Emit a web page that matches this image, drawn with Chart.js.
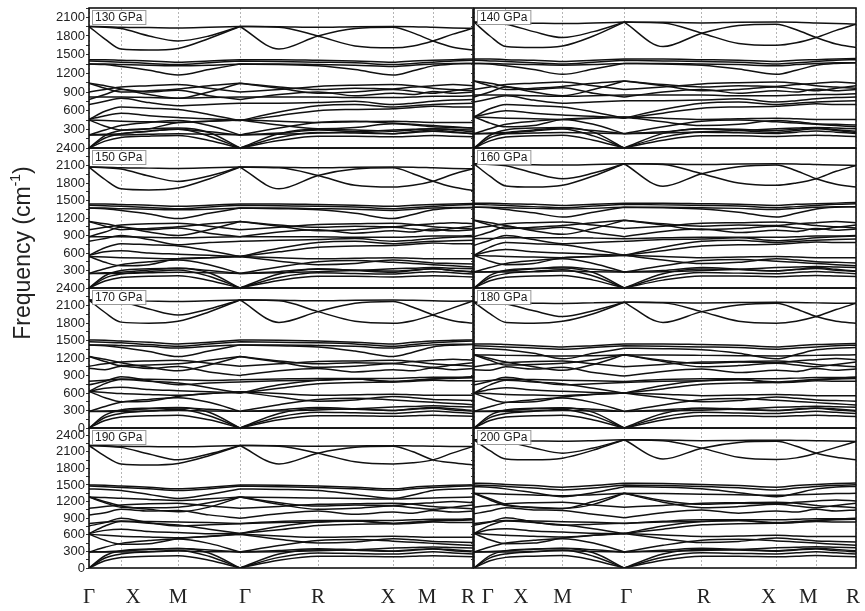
<!DOCTYPE html>
<html lang="en">
<head>
<meta charset="UTF-8" />
<title>Phonon dispersion 130-200 GPa</title>
<script src="https://cdn.jsdelivr.net/npm/chart.js"></script>
<style>
  body { margin: 0; background: #fff; }
  .fig { position: relative; width: 865px; height: 611px; overflow: hidden; background: #fff; }
  #leftCol { position: absolute; left: 0; top: 0; }
  #rightCol { position: absolute; left: 470px; top: 0; }
</style>
</head>
<body>
<div class="fig">
  <canvas id="leftCol" width="480" height="611"></canvas>
  <canvas id="rightCol" width="395" height="611"></canvas>
</div>
<script>
// high-symmetry points along the k path (dotted grid)
const kNodes = [0, 0.32, 0.89, 1.51, 2.29, 3.04, 3.44, 3.84];
const kLabels = ['Γ', 'X', 'M', 'Γ', 'R', 'X', 'M', 'R'];
// where the point names sit under each column
const kLabelAtLeft = [0, 0.44, 0.89, 1.56, 2.29, 2.99, 3.38, 3.79];
const kLabelAtRight = [0.14, 0.47, 0.89, 1.53, 2.31, 2.96, 3.36, 3.81];
const kSamples = [0, 0.16, 0.32, 0.6, 0.89, 1.2, 1.51, 1.9, 2.29, 2.66, 3.04, 3.24, 3.44, 3.64, 3.84];
const rowMax = [2250, 2400, 2400, 2530];
const leftNames = ['130 GPa', '150 GPa', '170 GPa', '190 GPa'];
const rightNames = ['140 GPa', '160 GPa', '180 GPa', '200 GPa'];

const p130 = [
  [1953, 1950, 1940, 1935, 1930, 1940, 1953, 1950, 1940, 1950, 1953, 1950, 1940, 1930, 1924],
  [1953, 1750, 1590, 1575, 1600, 1760, 1953, 1590, 1800, 1920, 1940, 1850, 1720, 1620, 1573],
  [1953, 1940, 1920, 1800, 1720, 1800, 1953, 1940, 1800, 1640, 1610, 1640, 1720, 1830, 1924],
  [1420, 1420, 1410, 1400, 1380, 1400, 1420, 1420, 1410, 1400, 1380, 1400, 1410, 1420, 1430],
  [1400, 1390, 1380, 1360, 1340, 1370, 1400, 1390, 1380, 1370, 1340, 1360, 1380, 1400, 1410],
  [1350, 1350, 1340, 1330, 1320, 1330, 1350, 1350, 1340, 1330, 1310, 1330, 1350, 1360, 1360],
  [1350, 1340, 1310, 1250, 1172, 1260, 1350, 1340, 1320, 1260, 1172, 1240, 1320, 1350, 1360],
  [1040, 960, 900, 920, 950, 1000, 1040, 980, 940, 960, 950, 980, 1000, 1020, 1000],
  [1040, 1000, 950, 860, 800, 900, 1040, 960, 880, 900, 940, 910, 880, 920, 960],
  [780, 860, 940, 900, 930, 840, 780, 860, 900, 840, 880, 860, 910, 880, 900],
  [820, 820, 820, 810, 800, 810, 820, 820, 820, 810, 810, 820, 830, 830, 840],
  [700, 750, 800, 730, 680, 700, 720, 720, 730, 750, 700, 720, 750, 770, 780],
  [460, 590, 660, 640, 620, 540, 440, 580, 680, 700, 660, 680, 700, 710, 720],
  [460, 520, 560, 520, 490, 470, 440, 520, 600, 620, 630, 650, 670, 660, 660],
  [900, 940, 980, 1000, 1020, 960, 900, 940, 990, 1010, 1020, 1000, 960, 940, 920],
  [450, 440, 430, 420, 410, 430, 450, 430, 410, 420, 430, 420, 410, 410, 410],
  [450, 350, 290, 310, 410, 430, 450, 370, 310, 330, 390, 370, 340, 330, 320],
  [210, 220, 230, 270, 300, 260, 210, 240, 290, 260, 230, 260, 290, 260, 230],
  [210, 210, 210, 220, 230, 220, 210, 220, 240, 260, 290, 300, 310, 300, 290],
  [210, 290, 360, 410, 440, 360, 210, 320, 410, 430, 400, 380, 360, 340, 320],
  [0, 110, 170, 190, 200, 120, 0, 120, 190, 190, 180, 190, 200, 190, 180],
  [0, 160, 230, 270, 300, 190, 0, 170, 250, 240, 230, 250, 270, 250, 230],
  [0, 200, 280, 310, 320, 250, 0, 230, 300, 290, 270, 290, 310, 290, 260]
];
const p140 = [
  [2023, 2020, 2010, 2005, 2000, 2010, 2023, 2020, 2010, 2020, 2023, 2020, 2010, 2000, 1990],
  [2023, 1800, 1630, 1614, 1640, 1800, 2023, 1630, 1845, 1970, 1990, 1900, 1775, 1670, 1614],
  [2023, 2010, 1990, 1870, 1775, 1870, 2023, 2010, 1845, 1680, 1650, 1690, 1775, 1890, 1990],
  [1430, 1430, 1420, 1410, 1390, 1410, 1430, 1430, 1420, 1410, 1390, 1410, 1420, 1430, 1440],
  [1410, 1400, 1390, 1370, 1350, 1380, 1410, 1400, 1390, 1380, 1350, 1370, 1390, 1410, 1420],
  [1360, 1360, 1350, 1340, 1330, 1340, 1360, 1360, 1350, 1340, 1320, 1340, 1360, 1370, 1370],
  [1360, 1350, 1320, 1260, 1184, 1270, 1360, 1350, 1330, 1270, 1184, 1250, 1330, 1360, 1370],
  [1076, 1000, 940, 960, 990, 1040, 1076, 1020, 980, 1000, 990, 1020, 1040, 1060, 1040],
  [1076, 1040, 990, 900, 840, 940, 1076, 1000, 920, 940, 980, 950, 920, 960, 1000],
  [820, 900, 980, 940, 970, 880, 820, 900, 940, 880, 920, 900, 950, 920, 940],
  [850, 850, 850, 840, 830, 840, 850, 850, 850, 840, 840, 850, 860, 860, 870],
  [740, 790, 840, 770, 720, 740, 760, 760, 770, 790, 740, 760, 790, 810, 820],
  [500, 630, 700, 680, 660, 580, 480, 620, 720, 740, 700, 720, 740, 750, 760],
  [500, 560, 600, 560, 530, 510, 480, 560, 640, 660, 670, 690, 710, 700, 700],
  [940, 980, 1020, 1040, 1060, 1000, 940, 980, 1030, 1050, 1060, 1040, 1000, 980, 960],
  [500, 490, 480, 470, 460, 480, 500, 480, 460, 470, 480, 470, 460, 460, 460],
  [500, 400, 340, 360, 460, 480, 500, 420, 360, 380, 440, 420, 390, 380, 370],
  [231, 240, 250, 290, 320, 280, 231, 260, 310, 280, 250, 280, 310, 280, 250],
  [231, 231, 231, 240, 250, 240, 231, 240, 260, 280, 310, 320, 330, 320, 310],
  [231, 310, 380, 430, 460, 380, 231, 340, 430, 450, 420, 400, 380, 360, 340],
  [0, 115, 175, 195, 205, 125, 0, 125, 195, 195, 185, 195, 205, 195, 185],
  [0, 165, 235, 275, 305, 195, 0, 175, 255, 245, 235, 255, 275, 255, 235],
  [0, 205, 290, 320, 330, 255, 0, 235, 310, 300, 280, 300, 320, 295, 270]
];
const p150 = [
  [2073, 2070, 2060, 2055, 2050, 2060, 2073, 2070, 2060, 2070, 2073, 2070, 2060, 2050, 2044],
  [2073, 1860, 1700, 1680, 1713, 1870, 2073, 1700, 1930, 2040, 2060, 1960, 1830, 1730, 1673],
  [2073, 2060, 2040, 1920, 1827, 1920, 2073, 2060, 1930, 1760, 1730, 1760, 1830, 1950, 2044],
  [1440, 1440, 1430, 1420, 1400, 1420, 1440, 1440, 1430, 1420, 1400, 1420, 1430, 1440, 1450],
  [1420, 1410, 1400, 1380, 1360, 1390, 1420, 1410, 1400, 1390, 1360, 1380, 1400, 1420, 1430],
  [1370, 1370, 1360, 1350, 1340, 1350, 1370, 1370, 1360, 1350, 1330, 1350, 1370, 1380, 1380],
  [1370, 1360, 1330, 1270, 1190, 1280, 1370, 1360, 1340, 1280, 1190, 1260, 1340, 1370, 1380],
  [1140, 1060, 1000, 1020, 1050, 1100, 1140, 1080, 1040, 1060, 1050, 1080, 1100, 1120, 1100],
  [1140, 1100, 1050, 960, 900, 1000, 1140, 1060, 980, 1000, 1040, 1010, 980, 1020, 1060],
  [880, 960, 1040, 1000, 1030, 940, 880, 960, 1000, 940, 980, 960, 1010, 980, 1000],
  [880, 880, 880, 870, 860, 870, 880, 880, 880, 870, 870, 880, 890, 890, 900],
  [800, 850, 900, 830, 740, 780, 800, 820, 830, 850, 800, 820, 850, 870, 880],
  [560, 690, 760, 740, 720, 640, 540, 680, 780, 800, 760, 780, 800, 810, 820],
  [560, 620, 640, 600, 580, 560, 540, 620, 700, 720, 730, 750, 770, 760, 760],
  [1000, 1040, 1080, 1100, 1110, 1060, 1000, 1040, 1090, 1100, 1110, 1090, 1050, 1030, 1010],
  [540, 530, 520, 510, 500, 520, 540, 520, 500, 510, 520, 510, 500, 500, 500],
  [540, 440, 380, 400, 500, 520, 540, 460, 400, 420, 480, 460, 430, 420, 410],
  [250, 260, 270, 310, 340, 300, 250, 280, 330, 300, 270, 300, 330, 300, 270],
  [250, 250, 250, 260, 270, 260, 250, 260, 280, 300, 330, 340, 350, 340, 330],
  [250, 330, 400, 450, 480, 400, 250, 360, 450, 470, 440, 420, 400, 380, 360],
  [0, 120, 180, 200, 210, 130, 0, 130, 200, 200, 190, 200, 210, 200, 190],
  [0, 170, 240, 280, 310, 200, 0, 180, 260, 250, 240, 260, 280, 260, 240],
  [0, 210, 300, 330, 340, 260, 0, 240, 320, 310, 290, 310, 330, 300, 280]
];
const p160 = [
  [2130, 2127, 2117, 2112, 2107, 2117, 2130, 2127, 2117, 2127, 2130, 2127, 2117, 2107, 2101],
  [2130, 1917, 1750, 1730, 1760, 1920, 2130, 1745, 1959, 2080, 2110, 2010, 1873, 1780, 1730],
  [2130, 2117, 2097, 1970, 1873, 1970, 2130, 2117, 1959, 1800, 1760, 1800, 1873, 2000, 2101],
  [1455, 1455, 1445, 1435, 1415, 1435, 1455, 1455, 1445, 1435, 1415, 1435, 1445, 1455, 1465],
  [1435, 1425, 1415, 1395, 1375, 1405, 1435, 1425, 1415, 1405, 1375, 1395, 1415, 1435, 1445],
  [1385, 1385, 1375, 1365, 1355, 1365, 1385, 1385, 1375, 1365, 1345, 1365, 1385, 1395, 1395],
  [1385, 1375, 1345, 1290, 1216, 1300, 1385, 1375, 1355, 1300, 1216, 1280, 1355, 1385, 1395],
  [1160, 1080, 1020, 1040, 1070, 1120, 1160, 1100, 1060, 1080, 1070, 1100, 1120, 1140, 1120],
  [1160, 1120, 1070, 980, 920, 1020, 1160, 1080, 1000, 1020, 1060, 1030, 1000, 1040, 1080],
  [880, 960, 1050, 1010, 1040, 950, 880, 970, 1010, 950, 990, 970, 1020, 990, 1010],
  [845, 850, 860, 860, 860, 855, 845, 860, 870, 870, 870, 880, 890, 890, 900],
  [730, 820, 900, 830, 760, 780, 800, 830, 840, 860, 810, 830, 860, 880, 890],
  [560, 700, 780, 760, 740, 660, 560, 700, 800, 820, 780, 800, 820, 830, 840],
  [560, 630, 660, 620, 600, 580, 560, 640, 720, 740, 750, 770, 790, 780, 780],
  [1020, 1060, 1100, 1120, 1130, 1080, 1020, 1060, 1110, 1120, 1130, 1110, 1070, 1050, 1030],
  [560, 550, 540, 530, 520, 540, 560, 540, 520, 530, 540, 530, 520, 520, 520],
  [560, 460, 400, 420, 520, 540, 560, 480, 420, 440, 500, 480, 450, 440, 430],
  [274, 280, 290, 330, 360, 320, 274, 300, 350, 320, 290, 320, 350, 320, 290],
  [274, 274, 274, 280, 290, 280, 274, 280, 300, 320, 350, 360, 370, 360, 350],
  [274, 350, 420, 470, 500, 420, 274, 380, 470, 490, 460, 440, 420, 400, 380],
  [0, 125, 185, 205, 215, 135, 0, 135, 205, 205, 195, 205, 215, 205, 195],
  [0, 175, 245, 285, 315, 205, 0, 185, 265, 255, 245, 265, 285, 265, 245],
  [0, 215, 305, 335, 345, 265, 0, 245, 325, 315, 295, 315, 335, 305, 285]
];
const p170 = [
  [2195, 2190, 2180, 2175, 2170, 2180, 2195, 2190, 2180, 2190, 2195, 2190, 2180, 2175, 2177],
  [2195, 1980, 1815, 1796, 1830, 1990, 2195, 1810, 1995, 2140, 2170, 2070, 1938, 1840, 1796],
  [2195, 2180, 2160, 2040, 1938, 2040, 2195, 2180, 1995, 1830, 1796, 1840, 1938, 2060, 2177],
  [1510, 1505, 1490, 1470, 1440, 1470, 1510, 1505, 1490, 1470, 1440, 1470, 1490, 1505, 1510],
  [1480, 1470, 1460, 1430, 1400, 1440, 1480, 1470, 1460, 1440, 1400, 1430, 1460, 1480, 1490],
  [1425, 1425, 1415, 1400, 1370, 1400, 1425, 1425, 1415, 1400, 1370, 1400, 1425, 1435, 1435],
  [1425, 1410, 1380, 1310, 1225, 1320, 1425, 1410, 1390, 1320, 1225, 1300, 1390, 1420, 1430],
  [1225, 1140, 1070, 1080, 1100, 1160, 1225, 1150, 1100, 1120, 1110, 1140, 1160, 1180, 1160],
  [1225, 1180, 1120, 1040, 980, 1080, 1225, 1130, 1040, 1060, 1100, 1070, 1040, 1080, 1120],
  [1026, 1000, 1060, 1020, 1054, 960, 900, 980, 1020, 960, 1000, 980, 1030, 1000, 1020],
  [800, 820, 840, 835, 826, 815, 826, 840, 850, 850, 850, 860, 870, 870, 880],
  [740, 800, 880, 810, 741, 770, 790, 810, 820, 840, 790, 810, 840, 860, 870],
  [627, 760, 830, 800, 770, 690, 598, 740, 820, 840, 800, 820, 840, 850, 860],
  [627, 680, 700, 660, 640, 620, 598, 680, 760, 780, 790, 800, 820, 810, 810],
  [1060, 1100, 1130, 1150, 1160, 1110, 1060, 1100, 1140, 1150, 1160, 1140, 1100, 1080, 1060],
  [627, 610, 590, 575, 560, 590, 620, 590, 560, 570, 580, 570, 560, 560, 560],
  [627, 520, 450, 460, 541, 590, 620, 530, 460, 480, 540, 520, 490, 480, 470],
  [285, 290, 300, 330, 342, 320, 285, 310, 350, 330, 300, 330, 350, 330, 300],
  [285, 285, 285, 290, 300, 290, 285, 290, 310, 330, 360, 370, 380, 370, 360],
  [285, 370, 440, 490, 520, 440, 285, 400, 490, 510, 480, 460, 440, 420, 400],
  [0, 130, 190, 210, 220, 140, 0, 140, 210, 210, 200, 210, 220, 210, 200],
  [0, 180, 250, 290, 320, 210, 0, 190, 270, 260, 250, 270, 290, 270, 250],
  [0, 220, 310, 340, 350, 270, 0, 250, 330, 320, 300, 320, 340, 310, 290]
];
const p180 = [
  [2155, 2152, 2145, 2140, 2135, 2145, 2155, 2152, 2145, 2150, 2155, 2150, 2145, 2140, 2138],
  [2155, 1960, 1810, 1796, 1830, 1960, 2155, 1810, 1995, 2110, 2140, 2040, 1910, 1830, 1796],
  [2155, 2145, 2125, 2010, 1910, 2010, 2155, 2145, 1995, 1830, 1796, 1830, 1910, 2030, 2138],
  [1440, 1440, 1430, 1410, 1390, 1410, 1440, 1440, 1430, 1420, 1390, 1410, 1430, 1440, 1450],
  [1410, 1400, 1390, 1370, 1350, 1380, 1410, 1400, 1390, 1380, 1350, 1370, 1390, 1410, 1420],
  [1368, 1360, 1340, 1280, 1186, 1280, 1368, 1360, 1340, 1280, 1186, 1260, 1340, 1368, 1380],
  [1254, 1250, 1245, 1240, 1235, 1240, 1254, 1250, 1245, 1240, 1235, 1240, 1245, 1250, 1254],
  [1254, 1160, 1080, 1090, 1110, 1170, 1254, 1160, 1110, 1130, 1120, 1150, 1170, 1190, 1170],
  [1254, 1190, 1130, 1050, 990, 1090, 1254, 1140, 1050, 1070, 1110, 1080, 1050, 1090, 1130],
  [1000, 990, 1050, 1010, 1040, 950, 890, 970, 1010, 950, 990, 970, 1020, 990, 1010],
  [798, 815, 835, 830, 820, 810, 798, 830, 845, 845, 845, 855, 865, 865, 875],
  [740, 800, 870, 800, 740, 760, 780, 800, 810, 830, 780, 800, 830, 850, 860],
  [598, 740, 820, 790, 760, 680, 598, 730, 810, 830, 790, 810, 830, 840, 850],
  [598, 660, 690, 650, 630, 610, 598, 670, 750, 770, 780, 790, 810, 800, 800],
  [1050, 1090, 1120, 1140, 1150, 1100, 1050, 1090, 1130, 1140, 1150, 1130, 1090, 1070, 1050],
  [598, 590, 575, 565, 555, 580, 598, 580, 555, 565, 575, 565, 555, 555, 555],
  [598, 500, 440, 450, 530, 575, 598, 520, 450, 470, 530, 510, 480, 470, 460],
  [285, 290, 300, 330, 340, 320, 285, 310, 345, 325, 300, 325, 345, 325, 300],
  [285, 285, 285, 290, 300, 290, 285, 290, 305, 325, 355, 365, 375, 365, 355],
  [285, 365, 435, 485, 515, 435, 285, 395, 485, 505, 475, 455, 435, 415, 395],
  [0, 128, 188, 208, 218, 138, 0, 138, 208, 208, 198, 208, 218, 208, 198],
  [0, 178, 248, 288, 318, 208, 0, 188, 268, 258, 248, 268, 288, 268, 248],
  [0, 218, 308, 338, 348, 268, 0, 248, 328, 318, 298, 318, 338, 308, 288]
];
const p190 = [
  [2214, 2210, 2200, 2195, 2190, 2200, 2214, 2210, 2200, 2205, 2210, 2205, 2200, 2195, 2196],
  [2214, 2020, 1880, 1863, 1890, 2030, 2214, 1880, 2075, 2180, 2200, 2100, 1954, 1900, 1863],
  [2214, 2200, 2180, 2060, 1954, 2060, 2214, 2200, 2075, 1920, 1880, 1900, 1954, 2080, 2196],
  [1500, 1495, 1480, 1460, 1430, 1460, 1500, 1495, 1480, 1460, 1430, 1460, 1480, 1495, 1505],
  [1480, 1470, 1455, 1430, 1400, 1430, 1480, 1470, 1455, 1430, 1400, 1430, 1455, 1475, 1485],
  [1428, 1420, 1400, 1330, 1258, 1330, 1428, 1420, 1400, 1330, 1258, 1320, 1400, 1425, 1435],
  [1283, 1275, 1260, 1240, 1222, 1250, 1283, 1275, 1265, 1255, 1245, 1255, 1265, 1275, 1283],
  [1283, 1180, 1100, 1090, 1100, 1180, 1283, 1180, 1120, 1140, 1130, 1160, 1180, 1200, 1180],
  [1283, 1200, 1120, 1060, 1016, 1100, 1283, 1150, 1060, 1080, 1120, 1090, 1060, 1100, 1140],
  [956, 1000, 1060, 1030, 1040, 960, 900, 980, 1030, 970, 1010, 990, 1040, 1010, 1030],
  [805, 830, 850, 840, 830, 820, 805, 840, 860, 860, 860, 870, 880, 880, 890],
  [760, 820, 900, 820, 760, 780, 800, 820, 830, 850, 800, 820, 850, 870, 880],
  [624, 760, 840, 810, 775, 700, 624, 750, 830, 850, 810, 830, 850, 860, 870],
  [624, 680, 700, 660, 640, 620, 624, 690, 770, 790, 800, 810, 830, 820, 820],
  [1080, 1110, 1140, 1160, 1170, 1120, 1080, 1110, 1150, 1160, 1170, 1150, 1110, 1090, 1070],
  [610, 590, 575, 560, 545, 570, 610, 580, 555, 565, 575, 565, 555, 555, 555],
  [610, 500, 430, 440, 530, 575, 610, 520, 450, 470, 530, 510, 480, 470, 460],
  [290, 295, 305, 335, 351, 325, 290, 315, 350, 330, 305, 330, 350, 330, 305],
  [290, 290, 290, 295, 305, 295, 290, 295, 310, 330, 360, 370, 380, 370, 360],
  [290, 375, 445, 495, 525, 445, 290, 405, 495, 515, 485, 465, 445, 425, 405],
  [0, 130, 190, 212, 222, 140, 0, 140, 212, 212, 202, 212, 222, 212, 202],
  [0, 180, 252, 292, 322, 212, 0, 192, 272, 262, 252, 272, 292, 272, 252],
  [0, 222, 312, 342, 352, 272, 0, 252, 332, 322, 302, 322, 342, 312, 292]
];
const p200 = [
  [2317, 2312, 2300, 2295, 2290, 2300, 2317, 2312, 2300, 2305, 2310, 2305, 2300, 2295, 2287],
  [2317, 2120, 1970, 1954, 1985, 2130, 2317, 1970, 2166, 2270, 2290, 2200, 2075, 2000, 1954],
  [2317, 2300, 2280, 2170, 2075, 2170, 2317, 2300, 2166, 2000, 1960, 1990, 2075, 2180, 2287],
  [1531, 1525, 1510, 1490, 1460, 1490, 1531, 1525, 1510, 1490, 1460, 1490, 1510, 1525, 1535],
  [1500, 1490, 1475, 1445, 1410, 1445, 1500, 1490, 1475, 1450, 1410, 1445, 1475, 1495, 1505],
  [1470, 1460, 1430, 1360, 1289, 1360, 1470, 1460, 1430, 1360, 1289, 1350, 1430, 1465, 1475],
  [1350, 1345, 1335, 1320, 1305, 1325, 1350, 1345, 1335, 1325, 1315, 1325, 1335, 1345, 1350],
  [1350, 1230, 1130, 1100, 1077, 1200, 1350, 1220, 1150, 1170, 1160, 1190, 1210, 1230, 1210],
  [1350, 1250, 1150, 1090, 1077, 1150, 1350, 1190, 1090, 1110, 1150, 1120, 1090, 1130, 1170],
  [980, 1030, 1090, 1050, 1040, 970, 910, 1000, 1050, 990, 1030, 1010, 1060, 1030, 1050],
  [805, 835, 860, 850, 835, 825, 805, 845, 870, 870, 870, 880, 890, 890, 900],
  [774, 830, 910, 830, 774, 790, 810, 830, 840, 860, 810, 830, 860, 880, 890],
  [623, 770, 850, 820, 780, 710, 623, 760, 840, 860, 820, 840, 860, 870, 880],
  [623, 690, 710, 670, 650, 630, 623, 700, 780, 800, 810, 820, 840, 830, 830],
  [1100, 1130, 1160, 1180, 1190, 1140, 1100, 1130, 1170, 1180, 1190, 1170, 1130, 1110, 1090],
  [623, 605, 590, 575, 560, 590, 623, 595, 570, 580, 590, 580, 570, 570, 570],
  [623, 510, 440, 450, 540, 590, 623, 530, 460, 480, 540, 520, 490, 480, 470],
  [290, 300, 310, 340, 355, 330, 290, 320, 355, 335, 310, 335, 355, 335, 310],
  [290, 290, 290, 300, 310, 300, 290, 300, 315, 335, 365, 375, 385, 375, 365],
  [290, 380, 450, 500, 530, 450, 290, 410, 500, 520, 490, 470, 450, 430, 410],
  [0, 132, 192, 214, 224, 142, 0, 142, 214, 214, 204, 214, 224, 214, 204],
  [0, 182, 254, 294, 324, 214, 0, 194, 274, 264, 254, 274, 294, 274, 254],
  [0, 224, 314, 344, 354, 274, 0, 254, 334, 324, 304, 324, 344, 314, 294]
];

const SANS = '"Liberation Sans", Arial, sans-serif';
const SERIF = '"Liberation Serif", "Times New Roman", serif';
const K_MAX = 3.84;

// break each band at the middle Γ so the acoustic branches meet in a cusp
function bandData(band) {
  const pts = kSamples.map((k, i) => ({ x: k, y: band[i] }));
  return [...pts.slice(0, 7), { x: kSamples[6], y: null }, ...pts.slice(6)];
}

function makeDatasets(panels) {
  const ds = [];
  panels.forEach((bands, r) => {
    bands.forEach(b => ds.push({
      data: bandData(b),
      xAxisID: 'x',
      yAxisID: 'y' + r,
      borderColor: '#111',
      borderWidth: 1.5,
      pointRadius: 0,
      cubicInterpolationMode: 'monotone',
      spanGaps: false,
      fill: false
    }));
  });
  return ds;
}

function makeScales(showLabels, axisWidth, labelAt) {
  const scales = {
    // dotted lines at the high-symmetry points
    x: {
      type: 'linear', min: 0, max: K_MAX,
      afterBuildTicks: s => { s.ticks = kNodes.map(v => ({ value: v })); },
      afterFit: s => { s.height = 0; s.paddingLeft = 0; s.paddingRight = 0; },
      grid: { color: '#b5b5b5', lineWidth: 1, drawTicks: false },
      border: { display: false, dash: [2, 2] },
      ticks: { display: false }
    },
    // point names underneath
    xl: {
      type: 'linear', position: 'bottom', min: 0, max: K_MAX,
      afterBuildTicks: s => { s.ticks = labelAt.map(v => ({ value: v })); },
      afterFit: s => { s.height = 43; s.paddingLeft = 0; s.paddingRight = 0; },
      grid: { display: false, drawTicks: false },
      border: { display: false },
      ticks: {
        callback: (v, i) => kLabels[i],
        autoSkip: false, maxRotation: 0, padding: 17,
        color: '#222', font: { family: SERIF, size: 21 }
      }
    }
  };
  rowMax.forEach((max, r) => {
    scales['y' + r] = {
      type: 'linear', position: 'left', stack: 'col', stackWeight: 1, weight: 4 - r,
      min: 0, max: max,
      afterBuildTicks: s => {
        const t = [];
        for (let v = 0; v <= max; v += 150) t.push({ value: v });
        s.ticks = t;
      },
      afterFit: s => { s.width = axisWidth; s.paddingTop = 0; s.paddingBottom = 0; },
      grid: { drawOnChartArea: false, drawTicks: true, tickLength: 3, color: '#333' },
      border: { display: false },
      ticks: {
        display: showLabels, autoSkip: false, padding: 1,
        color: '#222', font: { family: SANS, size: 13 },
        callback: v => (v % 300 || (v === 0 && r < 2)) ? '' : String(v)
      }
    };
  });
  return scales;
}

// panel frames + pressure tags
const panelFrames = {
  id: 'panelFrames',
  afterDatasetsDraw(chart, args, opts) {
    const { ctx, chartArea } = chart;
    ctx.save();
    opts.names.forEach((name, r) => {
      const s = chart.scales['y' + r];
      ctx.strokeStyle = '#111';
      ctx.lineWidth = 1.6;
      ctx.strokeRect(chartArea.left, s.top, chartArea.right - chartArea.left, s.bottom - s.top);
    });
    opts.names.forEach((name, r) => {
      const s = chart.scales['y' + r];
      ctx.font = '12px ' + SANS;
      const w = ctx.measureText(name).width + 6;
      const x = chartArea.left + 3, y = s.top + 2;
      ctx.fillStyle = '#fff';
      ctx.fillRect(x, y, w, 14);
      ctx.strokeStyle = '#999';
      ctx.lineWidth = 1;
      ctx.strokeRect(x + 0.5, y + 0.5, w, 14);
      ctx.fillStyle = '#222';
      ctx.textBaseline = 'middle';
      ctx.fillText(name, x + 3, y + 8);
    });
    ctx.restore();
  }
};

const yTitle = {
  id: 'yTitle',
  afterDraw(chart) {
    const ctx = chart.ctx;
    const main = '23px ' + SANS, sup = '14px ' + SANS;
    const a = 'Frequency (cm', b = '-1', c = ')';
    ctx.save();
    ctx.translate(24, 253);
    ctx.rotate(-Math.PI / 2);
    ctx.font = main;
    const wa = ctx.measureText(a).width, wc = ctx.measureText(c).width;
    ctx.font = sup;
    const wb = ctx.measureText(b).width;
    let x = -(wa + wb + wc) / 2;
    ctx.fillStyle = '#222';
    ctx.textBaseline = 'middle';
    ctx.font = main; ctx.fillText(a, x, 0); x += wa;
    ctx.font = sup; ctx.fillText(b, x, -8); x += wb;
    ctx.font = main; ctx.fillText(c, x, 0);
    ctx.restore();
  }
};

function buildColumn(id, panels, names, showLabels, axisWidth, padRight, labelAt, extra) {
  return new Chart(document.getElementById(id), {
    type: 'line',
    data: { datasets: makeDatasets(panels) },
    options: {
      responsive: false,
      animation: false,
      devicePixelRatio: 1,
      events: [],
      layout: { padding: { top: 8, right: padRight, left: 0, bottom: 0 } },
      scales: makeScales(showLabels, axisWidth, labelAt),
      plugins: {
        legend: { display: false },
        tooltip: { enabled: false },
        panelFrames: { names: names }
      }
    },
    plugins: [panelFrames].concat(extra)
  });
}

buildColumn('leftCol', [p130, p150, p170, p190], leftNames, true, 89, 7, kLabelAtLeft, [yTitle]);
buildColumn('rightCol', [p140, p160, p180, p200], rightNames, false, 4, 9, kLabelAtRight, []);
</script>
</body>
</html>
